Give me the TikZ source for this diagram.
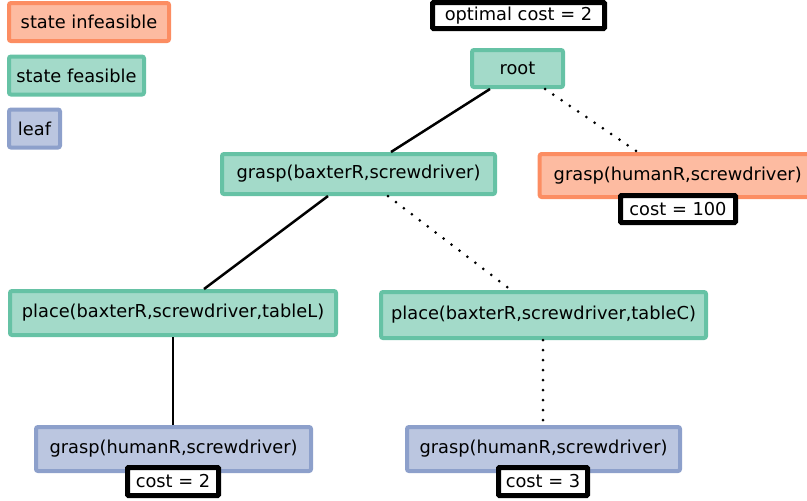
\documentclass[tikz,border=0pt]{standalone}
\usepackage{fontspec}
\setmainfont{DejaVu Sans}
\usepackage{xcolor}
\usepackage{tikz}
\usetikzlibrary{positioning}
\definecolor{infcol}{HTML}{FC8D62}
\definecolor{feacol}{HTML}{66C2A5}
\definecolor{leafcol}{HTML}{8DA0CB}

\begin{document}
\begin{tikzpicture}[x=1pt,y=-1pt,font=\fontsize{17.8}{21}\selectfont,
  box/.style={draw,rounded corners=2pt,align=center,inner sep=0pt,line width=4pt},
  infeasible/.style={box,draw=infcol,fill=infcol!60!white},
  feasible/.style={box,draw=feacol,fill=feacol!60!white},
  leafbox/.style={box,draw=leafcol,fill=leafcol!60!white},
  costbox/.style={draw,line width=5pt,rounded corners=1pt,fill=white,inner sep=0pt,minimum height=28pt},
  edge/.style={line width=2.5pt},
  dotedge/.style={line width=3pt,line cap=round,dash pattern=on 0pt off 10pt}]
  \useasboundingbox (0,0) rectangle (807,501);
  \node[infeasible,minimum width=160pt,minimum height=38pt] (legInf) at (89,22) {state infeasible};
  \node[feasible,minimum width=135pt,minimum height=38pt] (legFea) at (76.5,75.5) {state feasible};
  \node[leafbox,minimum width=51pt,minimum height=38pt] (legLeaf) at (34.5,128.5) {leaf};
  \node[costbox,minimum width=172pt,minimum height=26pt] (optimal) at (518.5,15.5) {optimal cost = 2};
  \node[feasible,minimum width=91pt,minimum height=37pt] (root) at (517.5,68.5) {root};
  \node[feasible,minimum width=273pt,minimum height=40pt] (graspB) at (358.5,174) {grasp(baxterR,screwdriver)};
  \node[infeasible,minimum width=276pt,minimum height=43pt] (graspH) at (677.7,175.5) {grasp(humanR,screwdriver)};
  \node[costbox,minimum width=115pt,minimum height=27pt] (costH) at (678,209) {cost = 100};
  \node[feasible,minimum width=326pt,minimum height=44pt] (placeL) at (173,313) {place(baxterR,screwdriver,tableL)};
  \node[feasible,minimum width=325pt,minimum height=46pt] (placeC) at (543.5,315) {place(baxterR,screwdriver,tableC)};
  \node[leafbox,minimum width=275pt,minimum height=44pt] (leafL) at (173.5,449) {grasp(humanR,screwdriver)};
  \node[leafbox,minimum width=273pt,minimum height=44pt] (leafC) at (543.5,449) {grasp(humanR,screwdriver)};
  \node[costbox,minimum width=91pt] (costL) at (173,481.5) {cost = 2};
  \node[costbox,minimum width=89pt] (costC) at (543,481.5) {cost = 3};
  \draw[edge] ([xshift=-27.5pt]root.south) -- ([xshift=32.5pt]graspB.north);
  \draw[dotedge] ([xshift=27.5pt]root.south) -- ([xshift=-40pt]graspH.north);
  \draw[edge] ([xshift=-30.5pt]graspB.south) -- ([xshift=31pt]placeL.north);
  \draw[dotedge] ([xshift=29.5pt]graspB.south) -- ([xshift=-32.5pt]placeC.north);
  \draw[edge] ([xshift=0pt]placeL.south) -- ([xshift=-0.5pt]leafL.north);
  \draw[dotedge] ([xshift=-0.5pt]placeC.south) -- ([xshift=-0.5pt]leafC.north);
\end{tikzpicture}
\end{document}
